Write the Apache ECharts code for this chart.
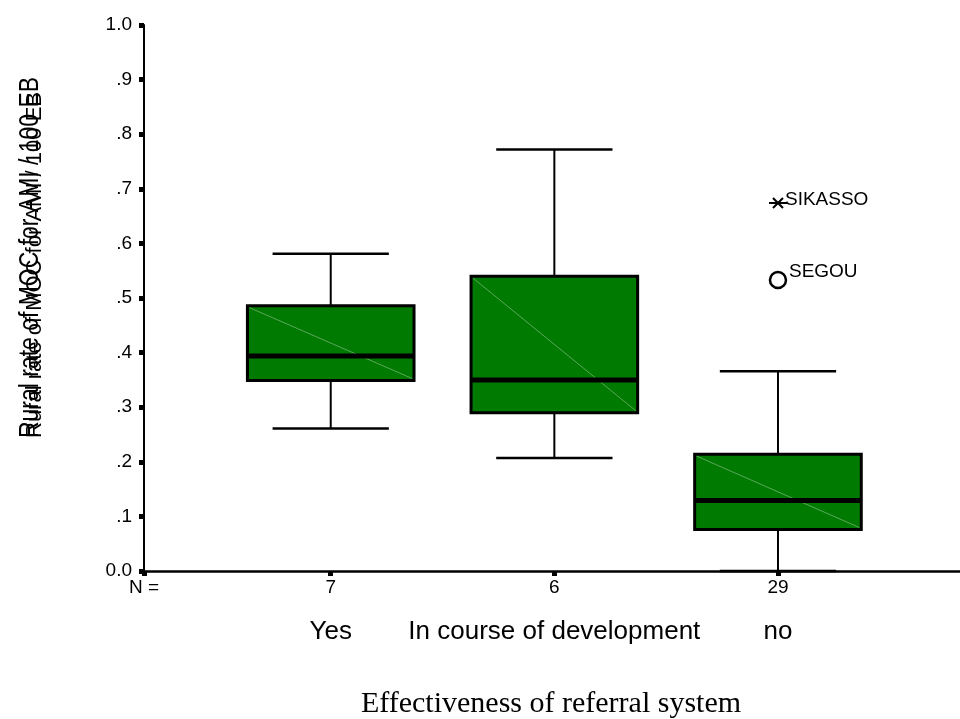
<!DOCTYPE html>
<html>
<head>
<meta charset="utf-8">
<script src="https://cdn.jsdelivr.net/npm/echarts@6/dist/echarts.min.js"></script>
<style>
html,body{margin:0;padding:0;background:#fff;}
#chart{width:960px;height:719px;}
</style>
</head>
<body>
<div id="chart"></div>
<script>
// ---- data ----
const categories = ['Yes', 'In course of development', 'no'];
const nCounts = ['7', '6', '29'];
const lowerWhisker = [0.261, 0.207, 0.0];
const q1 = [0.349, 0.290, 0.076];
const median = [0.394, 0.350, 0.129];
const q3 = [0.486, 0.540, 0.214];
const upperWhisker = [0.581, 0.772, 0.366];
const outlierNames = ['SIKASSO', 'SEGOU'];
const outlierCategory = [2, 2];
const outlierValues = [0.674, 0.533];
const yTickLabels = ['0.0', '.1', '.2', '.3', '.4', '.5', '.6', '.7', '.8', '.9', '1.0'];
const yTitle = 'Rural rate of MOC for AMI / 100 EB';
const xTitle = 'Effectiveness of referral system';

// ---- layout helpers ----
const X_MIN = -0.835;
const X_MAX = 2.814;
const SANS = '"Liberation Sans", Arial, sans-serif';

const boxData = categories.map((c, i) => [i, lowerWhisker[i], q1[i], median[i], q3[i], upperWhisker[i]]);
const outlierData = outlierNames.map((n, i) => {
  const c = outlierCategory[i];
  const iqr = q3[c] - q1[c];
  const extreme = (outlierValues[i] > q3[c] + 3 * iqr || outlierValues[i] < q1[c] - 3 * iqr) ? 1 : 0;
  return { name: n, value: [c, outlierValues[i], extreme] };
});

const chart = echarts.init(document.getElementById('chart'), null, { renderer: 'canvas' });

function renderBox(params, api) {
  const xv = api.value(0);
  const pLW = api.coord([xv, api.value(1)]);
  const pQ1 = api.coord([xv, api.value(2)]);
  const pMed = api.coord([xv, api.value(3)]);
  const pQ3 = api.coord([xv, api.value(4)]);
  const pUW = api.coord([xv, api.value(5)]);
  const unit = api.size([1, 0])[0];
  const bw = unit * 0.745;
  const cw = unit * 0.52;
  const cx = pMed[0];
  const black = { stroke: '#000', lineWidth: 2 };
  return {
    type: 'group',
    children: [
      { type: 'line', shape: { x1: cx, y1: pUW[1], x2: cx, y2: pQ3[1] }, style: black },
      { type: 'line', shape: { x1: cx, y1: pQ1[1], x2: cx, y2: pLW[1] }, style: black },
      { type: 'line', shape: { x1: cx - cw / 2, y1: pUW[1], x2: cx + cw / 2, y2: pUW[1] }, style: { stroke: '#000', lineWidth: 2.5 } },
      { type: 'line', shape: { x1: cx - cw / 2, y1: pLW[1], x2: cx + cw / 2, y2: pLW[1] }, style: { stroke: '#000', lineWidth: 2.5 } },
      { type: 'rect', shape: { x: cx - bw / 2, y: pQ3[1], width: bw, height: pQ1[1] - pQ3[1] },
        style: { fill: '#007a00', stroke: '#000', lineWidth: 3 } },
      { type: 'line', shape: { x1: cx - bw / 2 + 2, y1: pQ3[1] + 2, x2: cx + bw / 2 - 2, y2: pQ1[1] - 2 },
        style: { stroke: '#5aa85a', lineWidth: 1 } },
      { type: 'line', shape: { x1: cx - bw / 2, y1: pMed[1], x2: cx + bw / 2, y2: pMed[1] },
        style: { stroke: '#000', lineWidth: 5 } }
    ]
  };
}

function renderOutlier(params, api) {
  const p = api.coord([api.value(0), api.value(1)]);
  const extreme = api.value(2) === 1;
  const name = outlierData[params.dataIndex].name;
  const children = [];
  if (extreme) {
    children.push(
      { type: 'line', shape: { x1: p[0] - 9, y1: p[1], x2: p[0] + 9, y2: p[1] }, style: { stroke: '#000', lineWidth: 2 } },
      { type: 'line', shape: { x1: p[0] - 5, y1: p[1] - 5, x2: p[0] + 5, y2: p[1] + 5 }, style: { stroke: '#000', lineWidth: 2 } },
      { type: 'line', shape: { x1: p[0] - 5, y1: p[1] + 5, x2: p[0] + 5, y2: p[1] - 5 }, style: { stroke: '#000', lineWidth: 2 } }
    );
  } else {
    children.push({ type: 'circle', shape: { cx: p[0], cy: p[1], r: 8 }, style: { fill: '#fff', stroke: '#000', lineWidth: 2.5 } });
  }
  children.push({
    type: 'text',
    x: p[0] + (extreme ? 7 : 11),
    y: p[1] + (extreme ? -3 : -8),
    style: { text: name, fill: '#000', font: '19px ' + SANS, textAlign: 'left', textVerticalAlign: 'middle' }
  });
  return { type: 'group', children: children };
}

const option = {
  animation: false,
  backgroundColor: '#fff',
  grid: { left: 144, right: 0, top: 25, bottom: 148, containLabel: false, outerBoundsMode: 'none' },
  xAxis: [
    {
      type: 'value', min: X_MIN, max: X_MAX, position: 'bottom',
      splitLine: { show: false },
      axisLine: { show: true, onZero: false, lineStyle: { color: '#000', width: 2.5 } },
      axisTick: { show: true, inside: false, length: 5, customValues: [X_MIN, 0, 1, 2], lineStyle: { color: '#000', width: 5 } },
      axisLabel: {
        show: true, margin: 7, customValues: [X_MIN, 0, 1, 2],
        color: '#000', fontSize: 19, fontFamily: SANS,
        formatter: v => (v < -0.5 ? 'N =' : nCounts[Math.round(v)])
      }
    },
    {
      type: 'value', min: X_MIN, max: X_MAX, position: 'bottom',
      splitLine: { show: false },
      axisLine: { show: false },
      axisTick: { show: false },
      axisLabel: {
        show: true, margin: 48, customValues: [0, 1, 2],
        color: '#000', fontSize: 26, fontFamily: SANS,
        formatter: v => categories[Math.round(v)]
      }
    }
  ],
  yAxis: {
    type: 'value', min: 0, max: 1, interval: 0.1,
    splitLine: { show: false },
    axisLine: { show: true, onZero: false, lineStyle: { color: '#000', width: 2 } },
    axisTick: { show: true, inside: false, length: 5, lineStyle: { color: '#000', width: 5 } },
    axisLabel: {
      margin: 12, color: '#000', fontSize: 19, fontFamily: SANS,
      formatter: v => yTickLabels[Math.round(v * 10)]
    }
  },
  graphic: [
    { type: 'text', x: 30, y: 438, rotation: Math.PI / 2, scaleX: 0.82,
      style: { text: yTitle, font: '28px ' + SANS, fill: '#000', textAlign: 'left', textVerticalAlign: 'middle' } },
    { type: 'text', x: 35, y: 438, rotation: Math.PI / 2,
      style: { text: yTitle, font: '22px ' + SANS, fill: '#000', textAlign: 'left', textVerticalAlign: 'middle' } },
    { type: 'text', x: 551, y: 704,
      style: { text: xTitle, font: '30px "Liberation Serif", "Times New Roman", serif', fill: '#000', textAlign: 'center', textVerticalAlign: 'middle' } }
  ],
  series: [
    {
      type: 'custom', name: 'box', xAxisIndex: 0, yAxisIndex: 0,
      renderItem: renderBox,
      encode: { x: 0, y: [1, 2, 3, 4, 5] },
      data: boxData, z: 2
    },
    {
      type: 'custom', name: 'outliers', xAxisIndex: 0, yAxisIndex: 0,
      renderItem: renderOutlier,
      encode: { x: 0, y: 1 },
      data: outlierData, z: 3
    }
  ]
};
chart.setOption(option);
</script>
</body>
</html>
